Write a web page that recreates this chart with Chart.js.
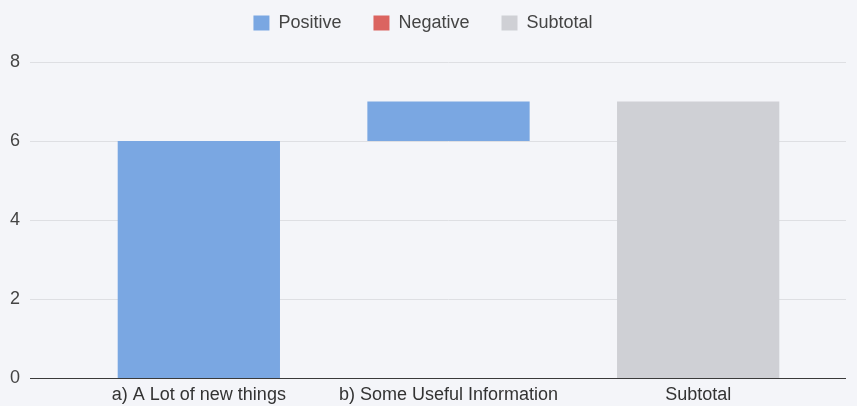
<!DOCTYPE html>
<html>
<head>
<meta charset="utf-8">
<script src="https://cdn.jsdelivr.net/npm/chart.js@4/dist/chart.umd.min.js"></script>
<style>
  html, body { margin: 0; padding: 0; background: #f4f5f9; }
  #wrap { width: 857px; height: 406px; }
</style>
</head>
<body>
<div id="wrap"><canvas id="waterfall"></canvas></div>
<script>
// Waterfall data: each entry is [start, end]
const categories = ['a) A Lot of new things', 'b) Some Useful Information', 'Subtotal'];
const positive = [[0, 6], [6, 7], null];
const negative = [null, null, null];
const subtotal = [null, null, [0, 7]];
const yTicks = [0, 2, 4, 6, 8];

const gridColor = (ctx) => (ctx.tick && ctx.tick.value === 0) ? '#3a3a3a' : '#dedfe3';

// extra room under the legend
const legendGap = {
  id: 'legendGap',
  beforeInit(chart) {
    const fit = chart.legend.fit;
    chart.legend.fit = function () {
      fit.call(this);
      this.height += 20;
    };
  }
};

Chart.defaults.font.family = '"Liberation Sans", Arial, sans-serif';
Chart.defaults.font.size = 18;
Chart.defaults.color = '#444';

new Chart(document.getElementById('waterfall'), {
  type: 'bar',
  data: {
    labels: categories,
    datasets: [
      { label: 'Positive', data: positive, backgroundColor: '#7aa7e2' },
      { label: 'Negative', data: negative, backgroundColor: '#db6460' },
      { label: 'Subtotal', data: subtotal, backgroundColor: '#cfd0d5' }
    ]
  },
  options: {
    responsive: true,
    maintainAspectRatio: false,
    animation: false,
    categoryPercentage: 0.65,
    barPercentage: 1,
    layout: { padding: { left: 0, right: 11, top: -18, bottom: -6 } },
    plugins: {
      legend: {
        position: 'top',
        labels: { boxWidth: 16, boxHeight: 15, padding: 32, color: '#444' }
      },
      tooltip: { enabled: false }
    },
    scales: {
      x: {
        stacked: true,
        grid: { display: false, drawTicks: false },
        border: { display: true, color: '#3a3a3a', width: 1 },
        ticks: { padding: 6, color: '#333' }
      },
      y: {
        stacked: false,
        min: 0,
        max: 8,
        afterBuildTicks: (axis) => { axis.ticks = yTicks.map(v => ({ value: v })); },
        grid: { color: gridColor, tickLength: 44, tickColor: gridColor },
        border: { display: false },
        ticks: { padding: 10, color: '#444' }
      },
      y2: {
        position: 'right',
        min: 0,
        max: 8,
        afterBuildTicks: (axis) => { axis.ticks = yTicks.map(v => ({ value: v })); },
        grid: { drawOnChartArea: false, tickLength: 23, color: gridColor, tickColor: gridColor },
        border: { display: false },
        ticks: { display: false }
      }
    }
  },
  plugins: [legendGap]
});
</script>
</body>
</html>
